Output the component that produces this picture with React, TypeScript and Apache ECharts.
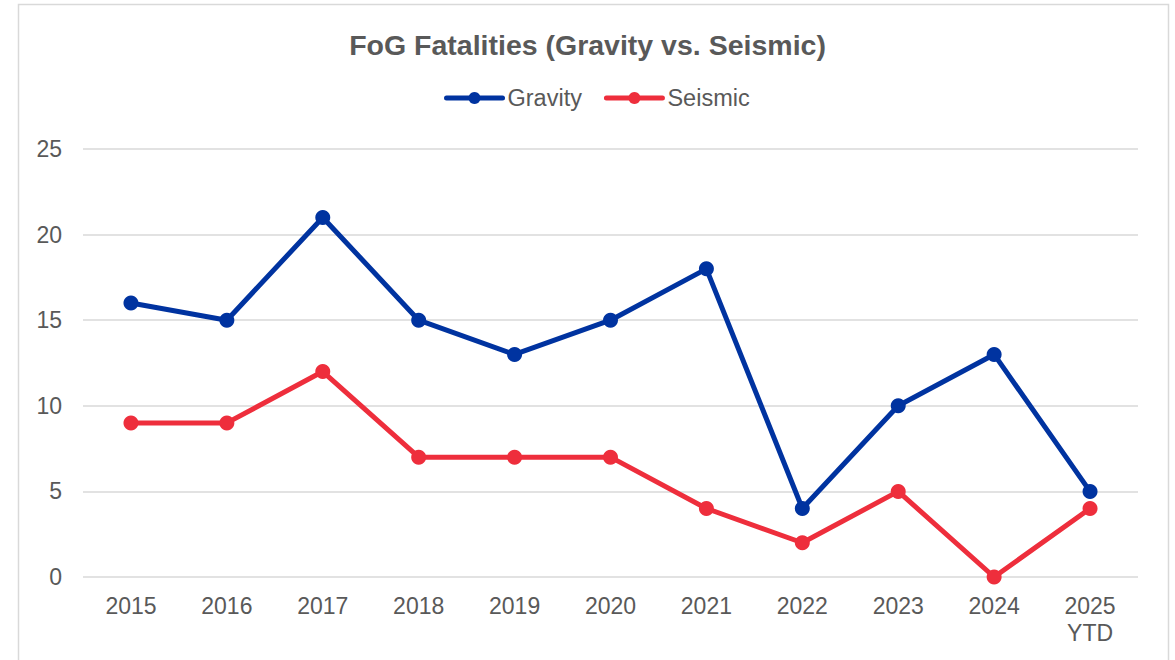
import React, { useEffect, useRef } from "react";
import * as echarts from "echarts";

const categories = ["2015", "2016", "2017", "2018", "2019", "2020", "2021", "2022", "2023", "2024", "2025\nYTD"];
const gravity = [16, 15, 21, 15, 13, 15, 18, 4, 10, 13, 5];
const seismic = [9, 9, 12, 7, 7, 7, 4, 2, 5, 0, 4];

export default function App() {
  const ref = useRef<HTMLDivElement>(null);
  useEffect(() => {
    const chart = echarts.init(ref.current!, null, { renderer: "svg" });
    const font = "'Liberation Sans', Arial, sans-serif";
    chart.setOption({
      animation: false,
      backgroundColor: "#ffffff",
      textStyle: { fontFamily: font },
      title: {
        text: "FoG Fatalities (Gravity vs. Seismic)",
        left: "center",
        top: 25,
        textStyle: { fontSize: 28.5, fontWeight: "bold", color: "#595959", fontFamily: font },
      },
      legend: {
        top: 81,
        left: 439,
        itemWidth: 56,
        itemHeight: 15,
        itemGap: 22,
        lineStyle: { width: 5, cap: "round" },
        textStyle: { fontSize: 23.5, color: "#595959", fontFamily: font },
        data: ["Gravity", "Seismic"],
      },
      graphic: [
        {
          type: "rect",
          shape: { x: 18.5, y: 4.5, width: 1150, height: 700 },
          style: { fill: "none", stroke: "#d9d9d9", lineWidth: 1.5 },
          silent: true,
        },
      ],
      grid: { left: 83, right: 37, top: 149, bottom: 83, containLabel: false },
      xAxis: {
        type: "category",
        data: categories,
        boundaryGap: true,
        axisLine: { show: false },
        axisTick: { show: false },
        axisLabel: { fontSize: 23, color: "#595959", margin: 15, lineHeight: 27, fontFamily: font },
      },
      yAxis: {
        type: "value",
        min: 0,
        max: 25,
        interval: 5,
        axisLine: { show: false },
        axisTick: { show: false },
        axisLabel: { fontSize: 23, color: "#595959", margin: 21, fontFamily: font },
        splitLine: { lineStyle: { color: "#d9d9d9", width: 1.5 } },
      },
      series: [
        {
          name: "Gravity",
          type: "line",
          data: gravity,
          symbol: "circle",
          symbolSize: 15,
          lineStyle: { width: 5, color: "#0033A0" },
          itemStyle: { color: "#0033A0" },
        },
        {
          name: "Seismic",
          type: "line",
          data: seismic,
          symbol: "circle",
          symbolSize: 15,
          lineStyle: { width: 5, color: "#EE2E3C" },
          itemStyle: { color: "#EE2E3C" },
        },
      ],
    });
    return () => chart.dispose();
  }, []);
  return (
    <div
      ref={ref}
      style={{ position: "absolute", left: 0, top: 0, width: 1175, height: 660 }}
    />
  );
}
